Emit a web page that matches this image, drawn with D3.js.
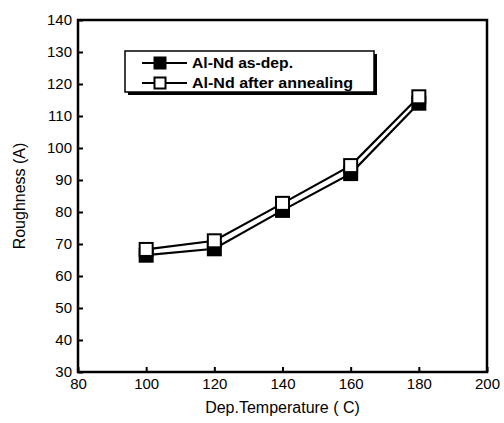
<!DOCTYPE html>
<html><head><meta charset="utf-8">
<script src="https://cdn.jsdelivr.net/npm/d3@7"></script>
<style>body{margin:0;background:#fff}svg{display:block}</style>
</head><body><svg id="c" width="504" height="423"></svg>
<script>
const temps = [100, 120, 140, 160, 180];
const asDep = [66.5, 68.5, 80.5, 92, 114];
const annealed = [68.3, 71, 82.7, 94.5, 116];
const xTicks = [80, 100, 120, 140, 160, 180, 200];
const yTicks = [30, 40, 50, 60, 70, 80, 90, 100, 110, 120, 130, 140];
const seriesNames = ["Al-Nd as-dep.", "Al-Nd after annealing"];

const svg = d3.select("#c");
const L = 78, R = 487, T = 20, B = 372;
const x = d3.scaleLinear().domain([80, 200]).range([L, R]);
const y = d3.scaleLinear().domain([30, 140]).range([B, T]);
const font = "Arial, 'Liberation Sans', sans-serif";

// frame
svg.append("rect").attr("x", L).attr("y", T).attr("width", R - L).attr("height", B - T)
  .attr("fill", "none").attr("stroke", "#000").attr("stroke-width", 2.5);

// axes
const xAxis = svg.append("g").attr("transform", `translate(0,${B})`)
  .call(d3.axisBottom(x).tickValues(xTicks).tickSize(-5).tickPadding(4).tickFormat(d3.format("d")));
const yAxis = svg.append("g").attr("transform", `translate(${L},0)`)
  .call(d3.axisLeft(y).tickValues(yTicks).tickSize(-5).tickPadding(6).tickFormat(d3.format("d")));
[xAxis, yAxis].forEach(a => {
  a.select(".domain").remove();
  a.selectAll(".tick line").attr("stroke", "#000").attr("stroke-width", 2);
  a.selectAll(".tick text").attr("font-family", font).attr("font-size", 15).attr("fill", "#000");
});
xAxis.selectAll(".tick text").attr("dy", "0.85em");

// titles
svg.append("text").attr("x", (L + R) / 2).attr("y", 413).attr("text-anchor", "middle")
  .attr("font-family", font).attr("font-size", 16).text("Dep.Temperature ( C)");
svg.append("text").attr("transform", `translate(25,${(T + B) / 2}) rotate(-90)`)
  .attr("text-anchor", "middle").attr("font-family", font).attr("font-size", 16).text("Roughness (A)");

// lines
const line = d3.line().x(d => x(d[0])).y(d => y(d[1]));
const series = [
  { vals: asDep, fill: "#000" },
  { vals: annealed, fill: "#fff" }
];
series.forEach(s => {
  const pts = temps.map((t, i) => [t, s.vals[i]]);
  svg.append("path").attr("d", line(pts)).attr("fill", "none").attr("stroke", "#000").attr("stroke-width", 2.2);
});
series.forEach(s => {
  temps.forEach((t, i) => {
    svg.append("rect").attr("x", x(t) - 6.5).attr("y", y(s.vals[i]) - 6.5)
      .attr("width", 13).attr("height", 13).attr("fill", s.fill)
      .attr("stroke", "#000").attr("stroke-width", 2);
  });
});

// legend
const legendWidths = [101, 161];
const lg = svg.append("g");
lg.append("rect").attr("x", 128).attr("y", 54).attr("width", 249).attr("height", 41).attr("fill", "#000");
lg.append("rect").attr("x", 125).attr("y", 51).attr("width", 249).attr("height", 41)
  .attr("fill", "#fff").attr("stroke", "#000").attr("stroke-width", 1.5);
seriesNames.forEach((n, i) => {
  const yy = 63 + i * 20;
  lg.append("line").attr("x1", 142).attr("x2", 187).attr("y1", yy).attr("y2", yy)
    .attr("stroke", "#000").attr("stroke-width", 2.2);
  lg.append("rect").attr("x", 160 - 5.5).attr("y", yy - 5.5).attr("width", 11).attr("height", 11)
    .attr("fill", series[i].fill).attr("stroke", "#000").attr("stroke-width", 2);
  lg.append("text").attr("x", 192).attr("y", yy + 5).attr("font-family", font)
    .attr("font-weight", "bold").attr("font-size", 14)
    .attr("textLength", legendWidths[i]).attr("lengthAdjust", "spacingAndGlyphs").text(n);
});
</script></body></html>
